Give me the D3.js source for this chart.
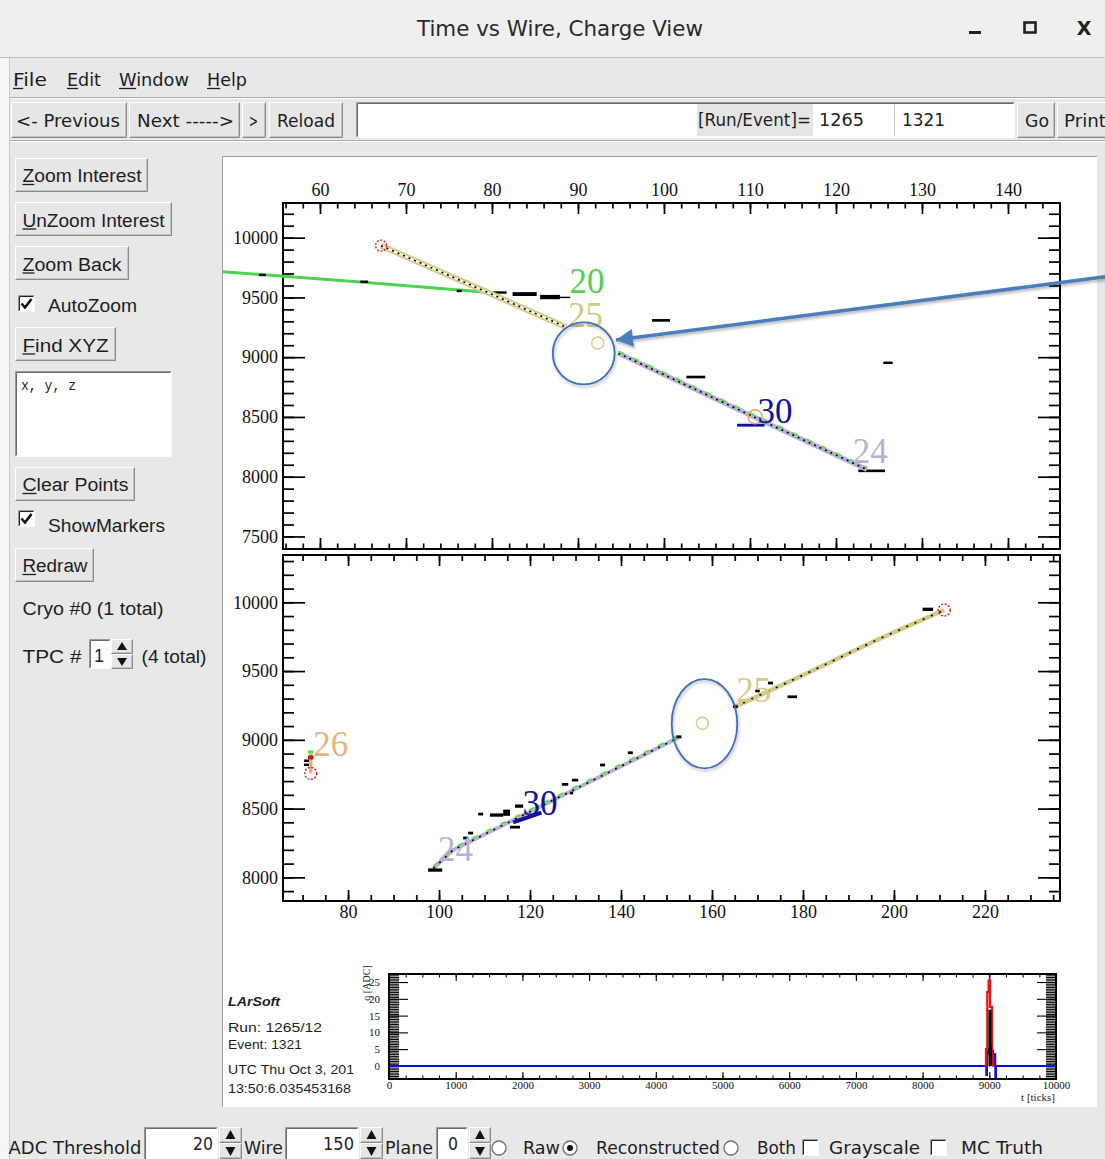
<!DOCTYPE html>
<html>
<head>
<meta charset="utf-8">
<script src="https://cdn.jsdelivr.net/npm/d3@7"></script>
<style>
  body { margin: 0; background: #e8e8e8; overflow: hidden; }
  svg { display: block; }
</style>
</head>
<body>
<script>
// ---------------- data ----------------
// top view: wire vs. tick
const topWireDomain = [55.7, 146.05];
const topTickDomain = [7395, 10290];
const topWireMajor = [60, 70, 80, 90, 100, 110, 120, 130, 140];
const topTickMajor = [7500, 8000, 8500, 9000, 9500, 10000];

const track20Top = [[48.7, 9715], [64.7, 9628], [79.4, 9543]];
const track25Top = [[67.1, 9933], [79.8, 9532], [88.6, 9252]];
const track24Top = [[94.7, 9032], [110.8, 8489], [123.6, 8060]];
const track30Top = [[108.5, 111.7, 8431, 24]];
// [first wire, last wire, tick, tick extent]
const hitsTop = [
  [52.9, 53.7, 9688, 20], [64.7, 65.6, 9631, 20], [75.9, 76.5, 9554, 20],
  [80.1, 81.7, 9541, 20], [82.4, 85.2, 9528, 32], [85.6, 87.9, 9503, 36],
  [87.9, 89.1, 9500, 12], [98.6, 100.7, 9308, 22], [102.6, 104.8, 8834, 22],
  [122.6, 125.7, 8049, 22], [125.5, 126.6, 8953, 20]
];
const redMarkTop = [[67.1, 9933]];
const tanMarkTop = [[92.3, 9118]];
const orangeMarkTop = [[110.6, 8501]];
const labelsTop = [["20", 91.05, 9636], ["25", 90.87, 9355], ["30", 112.9, 8550], ["24", 124.0, 8216]];

// bottom view: wire vs. tick
const botWireDomain = [65.7, 236.5];
const botTickDomain = [7828, 10344];
const botWireMajor = [80, 100, 120, 140, 160, 180, 200, 220];
const botTickMajor = [8000, 8500, 9000, 9500, 10000];

const track24Bot = [[98.75, 8065], [103.1, 8199], [117.8, 8441], [132.5, 8684], [153.0, 9022]];
const track25Bot = [[165.05, 9241], [180.0, 9470], [196.2, 9726], [211.05, 9944]];
const track26Bot = [[71.8, 8756], [71.8, 8905]];
const track30Bot = [[116.3, 8400], [122.5, 8470]];
const hitsBot = [
  [97.6, 100.7, 8053, 24], [105.3, 106.4, 8286, 20], [106.4, 107.5, 8322, 20],
  [108.6, 109.7, 8460, 20], [111.2, 114.1, 8453, 24], [114.1, 115.6, 8470, 45],
  [115.6, 117.8, 8365, 20], [116.7, 118.5, 8518, 24], [127.0, 128.4, 8676, 20],
  [129.2, 130.6, 8707, 20], [128.8, 129.5, 8613, 20], [135.4, 136.5, 8817, 20],
  [141.5, 142.6, 8906, 20], [152.2, 153.3, 9022, 20], [164.6, 165.7, 9241, 20],
  [169.5, 170.5, 9355, 20], [172.3, 173.4, 9413, 20], [176.6, 178.7, 9313, 20],
  [206.3, 208.6, 9949, 24], [70.3, 71.4, 8848, 18], [70.3, 71.4, 8818, 18]
];
const hits26RedBot = [[71.2, 72.4, 8872, 30]];
const hits26GreenBot = [[71.2, 72.4, 8912, 22]];
const redMarkBot = [[211.05, 9944], [71.8, 8756]];
const tanMarkBot = [[157.9, 9120]];
const labelsBot = [["26", 76.2, 8966], ["25", 169.2, 9362], ["30", 122.2, 8537], ["24", 103.6, 8202]];

// call-outs drawn on the views: [centre wire, centre tick, half width (wires), half height (ticks)]
const ringTop = [90.67, 9032, 3.6, 260];
const arrowTop = [[151.3, 9673], [94.42, 9143]];
const ringBot = [158.35, 9117, 7.2, 325];
const arrowBot = [[246.4, 9108], [165.8, 9108]];

// waveform of the selected wire
const waveTickMajor = [0, 1000, 2000, 3000, 4000, 5000, 6000, 7000, 8000, 9000, 10000];
const waveAdcMajor = [0, 5, 10, 15, 20, 25];
const rawTicks = [8940, 8950, 8970, 8990, 9010, 9040, 9060, 9080];
const rawAdc   = [0, 5, 22, 25.5, 17.6, 3, 0, 0];
const hitTicks = [8992, 9000, 9018, 9028];
const hitAdc   = [0, 16.5, 6, 0];
const recoTicks = [0, 8945, 8955, 8965, 8980, 9045, 9058, 9075, 9090, 9100, 10000];
const recoAdc   = [0, 0, -2.7, 4.8, 3.8, 4.5, 0.5, 3.5, -3.5, 0, 0];

const trackColor = { "20": "#4fd24f", "25": "#d3ca86", "30": "#12129c", "24": "#b6b1d7", "26": "#e6b57e" };

// ---------------- helpers ----------------
const UI = "'DejaVu Sans', 'Liberation Sans', sans-serif";
const UI2 = "'Liberation Sans', Arial, sans-serif";
const SERIF = "'Liberation Serif', 'Times New Roman', serif";

const svg = d3.select("body").append("svg").attr("width", 1105).attr("height", 1159);

function txt(g, x, y, s, o = {}) {
  const t = g.append("text").attr("x", x).attr("y", y).text(s)
    .attr("font-family", o.family || UI)
    .attr("font-size", o.size || 18)
    .attr("fill", o.fill || "#1e1e1e");
  if (o.anchor) t.attr("text-anchor", o.anchor);
  if (o.weight) t.attr("font-weight", o.weight);
  if (o.italic) t.attr("font-style", "italic");
  if (o.width) t.attr("textLength", o.width).attr("lengthAdjust", "spacingAndGlyphs");
  if (o.ul !== undefined) {
    const n = t.node();
    const a = n.getStartPositionOfChar(o.ul), b = n.getEndPositionOfChar(o.ul);
    g.append("line").attr("x1", a.x).attr("x2", b.x)
      .attr("y1", y + 2.5).attr("y2", y + 2.5)
      .attr("stroke", "#1e1e1e").attr("stroke-width", 1.3);
  }
  return t;
}

function raised(g, x, y, w, h) {
  g.append("rect").attr("x", x).attr("y", y).attr("width", w).attr("height", h).attr("fill", "#e6e6e6");
  g.append("path").attr("d", `M${x + .5},${y + h - .5}V${y + .5}H${x + w - .5}`).attr("stroke", "#fff").attr("fill", "none");
  g.append("path").attr("d", `M${x + .5},${y + h - .5}H${x + w - .5}V${y + .5}`).attr("stroke", "#8a8a8a").attr("fill", "none");
  g.append("path").attr("d", `M${x + 1.5},${y + h - 1.5}H${x + w - 1.5}V${y + 1.5}`).attr("stroke", "#c2c2c2").attr("fill", "none");
}

function sunken(g, x, y, w, h, fill = "#fff", dark = "#6a6a6a") {
  g.append("rect").attr("x", x).attr("y", y).attr("width", w).attr("height", h).attr("fill", fill);
  g.append("path").attr("d", `M${x + .5},${y + h - .5}V${y + .5}H${x + w - .5}`).attr("stroke", "#9a9a9a").attr("fill", "none");
  g.append("path").attr("d", `M${x + 1.5},${y + h - 1.5}V${y + 1.5}H${x + w - 1.5}`).attr("stroke", dark).attr("fill", "none");
  g.append("path").attr("d", `M${x + .5},${y + h - .5}H${x + w - .5}V${y + .5}`).attr("stroke", "#fafafa").attr("fill", "none");
}

function button(g, x, y, w, h, label, tx, tw, base, ul) {
  raised(g, x, y, w, h);
  txt(g, tx, base, label, { width: tw, ul: ul, family: g.attr("data-font") || UI });
}

function checkbox(g, x, y, on) {
  sunken(g, x, y, 17, 17, "#fff", "#222");
  if (on) g.append("path").attr("d", `M${x + 3.5},${y + 8.5}L${x + 7},${y + 12.5}L${x + 13.5},${y + 4}`)
    .attr("stroke", "#111").attr("stroke-width", 2.6).attr("fill", "none");
}

function radio(g, cx, cy, on) {
  g.append("circle").attr("cx", cx).attr("cy", cy).attr("r", 7).attr("fill", "#fff")
    .attr("stroke", "#6f6f6f").attr("stroke-width", 1.3);
  if (on) g.append("circle").attr("cx", cx).attr("cy", cy).attr("r", 3).attr("fill", "#111");
}

function spinner(g, x, y, w, h) {
  const hh = h / 2;
  raised(g, x, y, w, hh);
  raised(g, x, y + hh, w, hh);
  const cx = x + w / 2;
  g.append("path").attr("d", `M${cx - 5},${y + hh - 4}L${cx + 5},${y + hh - 4}L${cx},${y + 3}Z`).attr("fill", "#111");
  g.append("path").attr("d", `M${cx - 5},${y + hh + 4}L${cx + 5},${y + hh + 4}L${cx},${y + h - 3}Z`).attr("fill", "#111");
}

// ---------------- window chrome ----------------
svg.append("rect").attr("width", 1105).attr("height", 1159).attr("fill", "#e8e8e8");
svg.append("rect").attr("width", 1105).attr("height", 57).attr("fill", "#efefef");
svg.append("rect").attr("x", 0).attr("y", 57).attr("width", 9).attr("height", 1102).attr("fill", "#f6f6f6");
svg.append("line").attr("x1", 9.5).attr("x2", 9.5).attr("y1", 57).attr("y2", 1159).attr("stroke", "#c9c9c9");
svg.append("line").attr("x1", 0).attr("x2", 1105).attr("y1", 57.5).attr("y2", 57.5).attr("stroke", "#bdbdbd");

txt(svg, 560, 36, "Time vs Wire, Charge View", { size: 21, anchor: "middle", width: 286, fill: "#2a2a2a" });
svg.append("rect").attr("x", 969).attr("y", 31).attr("width", 12).attr("height", 3).attr("fill", "#222");
svg.append("rect").attr("x", 1024.5).attr("y", 22.5).attr("width", 11).attr("height", 10)
  .attr("fill", "none").attr("stroke", "#222").attr("stroke-width", 2.6);
txt(svg, 1084, 35, "X", { size: 19, anchor: "middle", weight: "bold", fill: "#222" });

// menu bar
const menu = svg.append("g");
txt(menu, 13, 86, "File", { width: 34, ul: 0 });
txt(menu, 67, 86, "Edit", { width: 34, ul: 0 });
txt(menu, 119, 86, "Window", { width: 70, ul: 0 });
txt(menu, 207, 86, "Help", { width: 40, ul: 0 });
svg.append("line").attr("x1", 10).attr("x2", 1105).attr("y1", 97.5).attr("y2", 97.5).attr("stroke", "#a8a8a8");
svg.append("line").attr("x1", 10).attr("x2", 1105).attr("y1", 98.5).attr("y2", 98.5).attr("stroke", "#fff");

// tool bar
const tb = svg.append("g");
button(tb, 11, 102, 116, 36, "<- Previous", 16, 104, 127);
button(tb, 129, 102, 111, 36, "Next ----->", 137, 97, 127);
button(tb, 242, 102, 24, 36, ">", 249, 9, 127);
button(tb, 269, 102, 74, 36, "Reload", 277, 58, 127);
sunken(tb, 356, 102, 659, 36);
tb.append("rect").attr("x", 697).attr("y", 104).attr("width", 116).attr("height", 32).attr("fill", "#e4e4e4");
txt(tb, 698, 126, "[Run/Event]=", { width: 113 });
tb.append("line").attr("x1", 894.5).attr("x2", 894.5).attr("y1", 104).attr("y2", 136).attr("stroke", "#c8c8c8");
txt(tb, 819, 126, "1265", { width: 45 });
txt(tb, 902, 126, "1321", { width: 43 });
button(tb, 1017, 102, 38, 36, "Go", 1025, 24, 127);
button(tb, 1057, 102, 52, 36, "Print", 1064, 42, 127);
svg.append("line").attr("x1", 10).attr("x2", 1105).attr("y1", 140.5).attr("y2", 140.5).attr("stroke", "#a8a8a8");
svg.append("line").attr("x1", 10).attr("x2", 1105).attr("y1", 141.5).attr("y2", 141.5).attr("stroke", "#fff");

// left control panel
const lp = svg.append("g").attr("data-font", UI2);
button(lp, 15, 158, 133, 34, "Zoom Interest", 22.5, 119, 182, 0);
button(lp, 15, 202, 157, 34, "UnZoom Interest", 22.5, 142, 226.5, 0);
button(lp, 15, 246, 114, 34, "Zoom Back", 22.5, 99, 270.5, 0);
checkbox(lp, 18, 295, true);
txt(lp, 48, 312, "AutoZoom", { family: UI2, width: 89 });
button(lp, 15, 327, 101, 34, "Find XYZ", 22.5, 86, 351.5, 0);
sunken(lp, 15, 371, 157, 86);
txt(lp, 21, 390, "x, y, z", { family: "'Liberation Mono', 'DejaVu Sans Mono', monospace", size: 15, width: 55 });
button(lp, 15, 467, 120, 34, "Clear Points", 22.5, 106, 491, 0);
checkbox(lp, 18, 510, true);
txt(lp, 48, 532, "ShowMarkers", { family: UI2, width: 117 });
button(lp, 15, 548, 79, 34, "Redraw", 22.5, 65, 572, 0);
txt(lp, 22.5, 615, "Cryo #0 (1 total)", { family: UI2, width: 141 });
txt(lp, 22.5, 663, "TPC  #", { family: UI2, width: 59 });
sunken(lp, 89, 639, 22, 30);
txt(lp, 94, 662, "1", { family: UI2 });
spinner(lp, 111, 639, 22, 30);
txt(lp, 141.5, 663, "(4 total)", { family: UI2, width: 65 });

// bottom control row
const bb = svg.append("g");
const bBase = 1154;
txt(bb, 8.5, bBase, "ADC Threshold", { width: 133 });
sunken(bb, 144, 1127, 74, 40);
txt(bb, 213, bBase - 4, "20", { anchor: "end", width: 20 });
spinner(bb, 219, 1127, 23, 32);
txt(bb, 244, bBase, "Wire", { width: 39 });
sunken(bb, 285, 1127, 74, 40);
txt(bb, 354, bBase - 4, "150", { anchor: "end", width: 31 });
spinner(bb, 360, 1127, 23, 32);
txt(bb, 385, bBase, "Plane", { width: 48 });
sunken(bb, 436, 1127, 32, 40);
txt(bb, 448, bBase - 4, "0", { width: 10 });
spinner(bb, 469, 1127, 22, 32);
radio(bb, 499, 1148, false);
txt(bb, 523, bBase, "Raw", { width: 37 });
radio(bb, 570, 1148, true);
txt(bb, 596, bBase, "Reconstructed", { width: 124 });
radio(bb, 731, 1148, false);
txt(bb, 757, bBase, "Both", { width: 39 });
checkbox(bb, 802, 1139, false);
txt(bb, 829, bBase, "Grayscale", { width: 91 });
checkbox(bb, 930, 1139, false);
txt(bb, 961, bBase, "MC Truth", { width: 82 });

// ---------------- canvas ----------------
svg.append("rect").attr("x", 223).attr("y", 157).attr("width", 874).attr("height", 950).attr("fill", "#fff");
svg.append("path").attr("d", "M222.5,1107V156.5H1097").attr("stroke", "#9c9c9c").attr("fill", "none");

function drawAxes(g, xs, ys, o) {
  const [x0, x1] = xs.range(), [y0, y1] = ys.range();
  const inX = v => v >= xs.domain()[0] && v <= xs.domain()[1];
  const inY = v => v >= ys.domain()[0] && v <= ys.domain()[1];
  const mk = (gen, vals, len, labels, tr, pad) => {
    const a = g.append("g").attr("transform", tr)
      .call(gen.tickValues(vals).tickSize(-len).tickPadding(pad).tickFormat(labels ? d3.format("d") : ""));
    a.select(".domain").remove();
    a.selectAll("line").attr("stroke", "#000").attr("stroke-width", o.tickW);
    a.selectAll("text").attr("font-family", SERIF).attr("font-size", o.font).attr("fill", "#111");
  };
  const xMinor = o.xMinor.filter(inX), yMinor = o.yMinor.filter(inY);
  mk(d3.axisTop(xs), xMinor, o.xMin, false, `translate(0,${y1})`, o.padX);
  mk(d3.axisTop(xs), o.xMajor, o.xMaj, o.xLab === "top", `translate(0,${y1})`, o.padX);
  mk(d3.axisBottom(xs), xMinor, o.xMin, false, `translate(0,${y0})`, o.padX);
  mk(d3.axisBottom(xs), o.xMajor, o.xMaj, o.xLab === "bottom", `translate(0,${y0})`, o.padX);
  mk(d3.axisLeft(ys), yMinor, o.yMin, false, `translate(${x0},0)`, o.padY);
  mk(d3.axisLeft(ys), o.yMajor, o.yMaj, true, `translate(${x0},0)`, o.padY);
  mk(d3.axisRight(ys), yMinor, o.yMin, false, `translate(${x1},0)`, o.padY);
  mk(d3.axisRight(ys), o.yMajor, o.yMaj, false, `translate(${x1},0)`, o.padY);
  g.append("rect").attr("x", x0).attr("y", y1).attr("width", x1 - x0).attr("height", y0 - y1)
    .attr("fill", "none").attr("stroke", "#000").attr("stroke-width", o.frameW);
}

function drawView(g, xs, ys, parts) {
  const line = d3.line().x(d => xs(d[0])).y(d => ys(d[1]));
  const band = (pts, color, w) => g.append("path").attr("d", line(pts)).attr("fill", "none")
    .attr("stroke", color).attr("stroke-width", w).attr("stroke-linejoin", "round");
  parts.forEach(p => {
    if (p.kind === "band") {
      band(p.pts, p.color, p.w);
      if (p.hollow) band(p.pts, "#fff", p.hollow);
      if (p.green) band(p.pts, "#62e04a", 2).attr("stroke-dasharray", "6,10").attr("transform", "translate(0,-2)");
      if (p.dots) band(p.pts, "#000", 1.6).attr("stroke-dasharray", p.dots);
    } else if (p.kind === "hits") {
      g.selectAll(null).data(p.rows).join("rect")
        .attr("x", d => xs(d[0])).attr("width", d => xs(d[1]) - xs(d[0]))
        .attr("y", d => ys(d[2] + d[3] / 2)).attr("height", d => ys(d[2] - d[3] / 2) - ys(d[2] + d[3] / 2))
        .attr("fill", p.color);
    } else if (p.kind === "marks") {
      g.selectAll(null).data(p.pts).join("circle")
        .attr("cx", d => xs(d[0])).attr("cy", d => ys(d[1])).attr("r", p.r)
        .attr("fill", "none").attr("stroke", p.color).attr("stroke-width", 1.4)
        .attr("stroke-dasharray", p.dash || null);
    } else if (p.kind === "labels") {
      g.selectAll(null).data(p.rows).join("text")
        .attr("x", d => xs(d[1])).attr("y", d => ys(d[2])).attr("dy", "0.34em")
        .attr("text-anchor", "middle").attr("font-family", SERIF).attr("font-size", 35)
        .attr("fill", d => trackColor[d[0]]).text(d => d[0]);
    }
  });
}

// top view
const topX = d3.scaleLinear().domain(topWireDomain).range([283, 1060]);
const topY = d3.scaleLinear().domain(topTickDomain).range([549, 203]);
const gTop = svg.append("g");
drawAxes(gTop, topX, topY, {
  xMajor: topWireMajor, xMinor: d3.range(56, 147, 2), yMajor: topTickMajor, yMinor: d3.range(7400, 10300, 100),
  xLab: "top", xMaj: 11, xMin: 5.5, yMaj: 22, yMin: 11, padX: 7, padY: 5, font: 18, tickW: 1.7, frameW: 2
});
drawView(gTop, topX, topY, [
  { kind: "band", pts: track20Top, color: trackColor["20"], w: 3 },
  { kind: "hits", rows: hitsTop, color: "#000" },
  { kind: "band", pts: track25Top, color: trackColor["25"], w: 6, hollow: 2, dots: "2,4" },
  { kind: "band", pts: track24Top, color: trackColor["24"], w: 5, green: true, dots: "2,4" },
  { kind: "hits", rows: track30Top, color: trackColor["30"] },
  { kind: "marks", pts: redMarkTop, color: "#d42a2a", r: 5.5, dash: "2,1.5" },
  { kind: "marks", pts: tanMarkTop, color: "#d8cc80", r: 6 },
  { kind: "marks", pts: orangeMarkTop, color: "#e2a65a", r: 7 },
  { kind: "labels", rows: labelsTop }
]);

// bottom view
const botX = d3.scaleLinear().domain(botWireDomain).range([283, 1060]);
const botY = d3.scaleLinear().domain(botTickDomain).range([901, 555]);
const gBot = svg.append("g");
drawAxes(gBot, botX, botY, {
  xMajor: botWireMajor, xMinor: d3.range(70, 237, 5), yMajor: botTickMajor, yMinor: d3.range(7900, 10400, 100),
  xLab: "bottom", xMaj: 11, xMin: 6, yMaj: 22, yMin: 11, padX: 4, padY: 5, font: 18, tickW: 1.7, frameW: 2
});
drawView(gBot, botX, botY, [
  { kind: "band", pts: track24Bot, color: trackColor["24"], w: 4, green: true, dots: "2,6" },
  { kind: "band", pts: track25Bot, color: trackColor["25"], w: 4.5, dots: "2,7" },
  { kind: "band", pts: track26Bot, color: trackColor["26"], w: 3.5 },
  { kind: "hits", rows: hits26RedBot, color: "#c81818" },
  { kind: "hits", rows: hits26GreenBot, color: "#5ee04a" },
  { kind: "band", pts: track30Bot, color: trackColor["30"], w: 4 },
  { kind: "hits", rows: hitsBot, color: "#000" },
  { kind: "marks", pts: redMarkBot, color: "#cc2222", r: 6, dash: "2,1.5" },
  { kind: "marks", pts: tanMarkBot, color: "#d8cc80", r: 6 },
  { kind: "labels", rows: labelsBot }
]);

// call-outs
const defs = svg.append("defs");
defs.append("filter").attr("id", "shadow").attr("x", "-20%").attr("y", "-20%").attr("width", "140%").attr("height", "140%")
  .append("feDropShadow").attr("dx", 1).attr("dy", 2).attr("stdDeviation", 1.5).attr("flood-opacity", 0.3);
defs.append("marker").attr("id", "head").attr("markerUnits", "userSpaceOnUse")
  .attr("markerWidth", 20).attr("markerHeight", 20).attr("refX", 17).attr("refY", 9).attr("orient", "auto")
  .append("path").attr("d", "M0,0L17,9L0,18Z").attr("fill", "#4a7ebb");

[[topX, topY, ringTop, arrowTop], [botX, botY, ringBot, arrowBot]].forEach(([xs, ys, ring, arrow]) => {
  svg.append("ellipse").attr("cx", xs(ring[0])).attr("cy", ys(ring[1]))
    .attr("rx", xs(ring[0] + ring[2]) - xs(ring[0])).attr("ry", ys(ring[1] - ring[3]) - ys(ring[1]))
    .attr("fill", "none").attr("stroke", "#3f6fb5").attr("stroke-width", 1.8).attr("filter", "url(#shadow)");
  svg.append("line").attr("x1", xs(arrow[0][0])).attr("y1", ys(arrow[0][1]))
    .attr("x2", xs(arrow[1][0])).attr("y2", ys(arrow[1][1]))
    .attr("stroke", "#4a7ebb").attr("stroke-width", 3.5).attr("marker-end", "url(#head)")
    .attr("filter", "url(#shadow)");
});

// ---------------- waveform pad ----------------
const info = svg.append("g");
txt(info, 228, 1006, "LArSoft", { family: UI2, size: 13, weight: "bold", italic: true, width: 52 });
txt(info, 228, 1032, "Run:   1265/12", { family: UI2, size: 13, width: 94 });
txt(info, 228, 1049, "Event: 1321", { family: UI2, size: 13, width: 74 });
txt(info, 228, 1074, "UTC Thu Oct 3, 201", { family: UI2, size: 13, width: 126 });
txt(info, 228, 1093, "13:50:6.035453168", { family: UI2, size: 13, width: 123 });

const waveX = d3.scaleLinear().domain([0, 10000]).range([389, 1056]);
const waveY = d3.scaleLinear().domain([-3.9, 27.4]).range([1079, 974]);
const gWave = svg.append("g");
drawAxes(gWave, waveX, waveY, {
  xMajor: waveTickMajor, xMinor: d3.range(0, 10001, 250), yMajor: waveAdcMajor, yMinor: d3.range(-3.5, 27.5, 0.5),
  xLab: "bottom", xMaj: 7, xMin: 3.5, yMaj: 19, yMin: 10, padX: 2, padY: 9, font: 11, tickW: 1.1, frameW: 2
});
const wline = d3.line().curve(d3.curveStepAfter).x(d => waveX(d[0])).y(d => waveY(d[1]));
gWave.append("path").attr("d", wline(d3.zip(recoTicks, recoAdc))).attr("fill", "none").attr("stroke", "#0a0af0").attr("stroke-width", 2);
gWave.append("path").attr("d", wline(d3.zip(rawTicks, rawAdc))).attr("fill", "none").attr("stroke", "#f01010").attr("stroke-width", 2.2);
gWave.append("path").attr("d", wline(d3.zip(hitTicks, hitAdc))).attr("fill", "none").attr("stroke", "#000").attr("stroke-width", 1.8);
txt(gWave, 366, 983, "q [ADC]", { family: SERIF, size: 10, anchor: "middle" })
  .attr("transform", "rotate(-90,366,983)").attr("dy", "0.35em");
txt(gWave, 1055, 1101, "t [ticks]", { family: SERIF, size: 11, anchor: "end" });
</script>
</body>
</html>
